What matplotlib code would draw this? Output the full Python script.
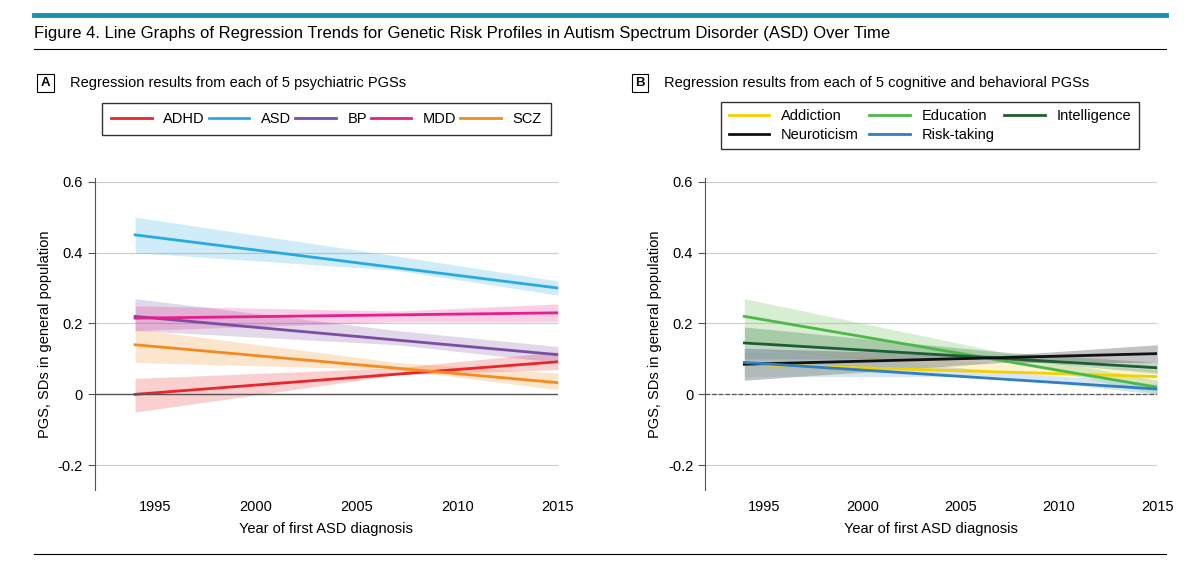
import numpy as np
import matplotlib.pyplot as plt

plt.rcParams['font.family'] = ['Liberation Sans', 'DejaVu Sans']

# years where the fitted lines and bands are read
yrs = [1994, 2007, 2015]

# panel A: psychiatric PGSs (line at ends, band lo/hi at 3 years)
psy_names = ['ADHD', 'ASD', 'BP', 'MDD', 'SCZ']
psy_colors = ['#e8262b', '#27aae1', '#7b4ea3', '#e5208e', '#f58b1f']
psy_start = [0.0, 0.45, 0.22, 0.215, 0.14]
psy_end = [0.092, 0.30, 0.112, 0.23, 0.033]
psy_lo = [[-0.05, 0.055, 0.07], [0.40, 0.35, 0.28], [0.18, 0.14, 0.09], [0.18, 0.205, 0.205], [0.09, 0.07, 0.013]]
psy_hi = [[0.045, 0.075, 0.12], [0.50, 0.39, 0.32], [0.27, 0.18, 0.135], [0.25, 0.235, 0.255], [0.185, 0.09, 0.06]]

# panel B: cognitive and behavioral PGSs
cog_names = ['Addiction', 'Education', 'Intelligence', 'Neuroticism', 'Risk-taking']
cog_colors = ['#f5d000', '#4cb848', '#1d5e32', '#111111', '#2f7fc1']
cog_fill = ['#f8e27a', '#8fd07f', '#4f8a5f', '#555555', '#8fb8e0']
cog_start = [0.085, 0.22, 0.145, 0.085, 0.09]
cog_end = [0.05, 0.02, 0.075, 0.115, 0.015]
cog_lo = [[0.05, 0.07, 0.03], [0.15, 0.10, 0.0], [0.10, 0.10, 0.06], [0.04, 0.09, 0.09], [0.05, 0.05, 0.0]]
cog_hi = [[0.12, 0.09, 0.07], [0.27, 0.12, 0.04], [0.19, 0.12, 0.09], [0.13, 0.11, 0.14], [0.13, 0.065, 0.03]]

fig = plt.figure(figsize=(12, 5.62), dpi=100)

# header
fig.add_artist(plt.Line2D([0.028, 0.972], [0.973, 0.973], color='#1a8fb8', lw=3.5))
fig.add_artist(plt.Line2D([0.028, 0.972], [0.912, 0.912], color='black', lw=0.8))
fig.add_artist(plt.Line2D([0.028, 0.972], [0.015, 0.015], color='black', lw=0.8))
fig.text(0.028, 0.94, 'Figure 4. Line Graphs of Regression Trends for Genetic Risk Profiles in Autism Spectrum Disorder (ASD) Over Time',
         fontsize=12, va='center')


def panel(rect, letter, title, lx, names, colors, fills, start, end, lo, hi, dashed, alpha):
    ax = fig.add_axes(rect)
    for i in range(len(names)):
        ax.fill_between(yrs, lo[i], hi[i], color=fills[i], alpha=alpha, lw=0)
    for i in range(len(names)):
        ax.plot([1994, 2015], [start[i], end[i]], color=colors[i], lw=2, label=names[i])
    ax.set_xlim(1992, 2015)
    ax.set_ylim(-0.27, 0.61)
    ax.set_xticks([1995, 2000, 2005, 2010, 2015])
    ax.set_yticks([-0.2, 0, 0.2, 0.4, 0.6])
    ax.set_yticklabels(['-0.2', '0', '0.2', '0.4', '0.6'])
    ax.yaxis.grid(True, color='#cccccc', lw=0.8)
    ax.set_axisbelow(True)
    if dashed:
        ax.axhline(0, color='#555555', lw=0.9, ls='--')
    else:
        ax.axhline(0, color='#555555', lw=1)
    for s in ['top', 'right', 'bottom']:
        ax.spines[s].set_visible(False)
    ax.spines['left'].set_color('#555555')
    ax.tick_params(axis='x', length=0, labelsize=10.5, pad=7)
    ax.tick_params(axis='y', length=5, color='#555555', labelsize=10.5)
    ax.set_xlabel('Year of first ASD diagnosis', fontsize=10.5, labelpad=6)
    ax.set_ylabel('PGS, SDs in general population', fontsize=10.5)
    fig.text(lx, 0.852, letter, fontsize=9.5, weight='bold', va='center', ha='center',
             bbox=dict(boxstyle='square,pad=0.25', fc='white', ec='black', lw=0.8))
    fig.text(lx + 0.02, 0.852, title, fontsize=10.5, va='center')
    return ax


axA = panel([0.079, 0.128, 0.386, 0.555], 'A', 'Regression results from each of 5 psychiatric PGSs', 0.038,
            psy_names, psy_colors, psy_colors, psy_start, psy_end, psy_lo, psy_hi, False, 0.22)
axA.legend(loc='lower left', bbox_to_anchor=(0.0, 1.115, 1.0, 0.1), ncol=5, mode='expand', frameon=True,
           fancybox=False, edgecolor='black', fontsize=10.5, handlelength=2.8, borderpad=0.6)

axB = panel([0.5875, 0.128, 0.377, 0.555], 'B', 'Regression results from each of 5 cognitive and behavioral PGSs', 0.533,
            cog_names, cog_colors, cog_fill, cog_start, cog_end, cog_lo, cog_hi, True, 0.35)
# reorder so the legend fills row by row
h, l = axB.get_legend_handles_labels()
order = [0, 3, 1, 4, 2]
axB.legend([h[i] for i in order], [l[i] for i in order], loc='lower left', bbox_to_anchor=(0.02, 1.07, 0.955, 0.2),
           ncol=3, mode='expand', frameon=True, fancybox=False, edgecolor='black', fontsize=10.5,
           handlelength=2.8, borderpad=0.5, labelspacing=0.3)

fig.savefig('out.png', dpi=100)
